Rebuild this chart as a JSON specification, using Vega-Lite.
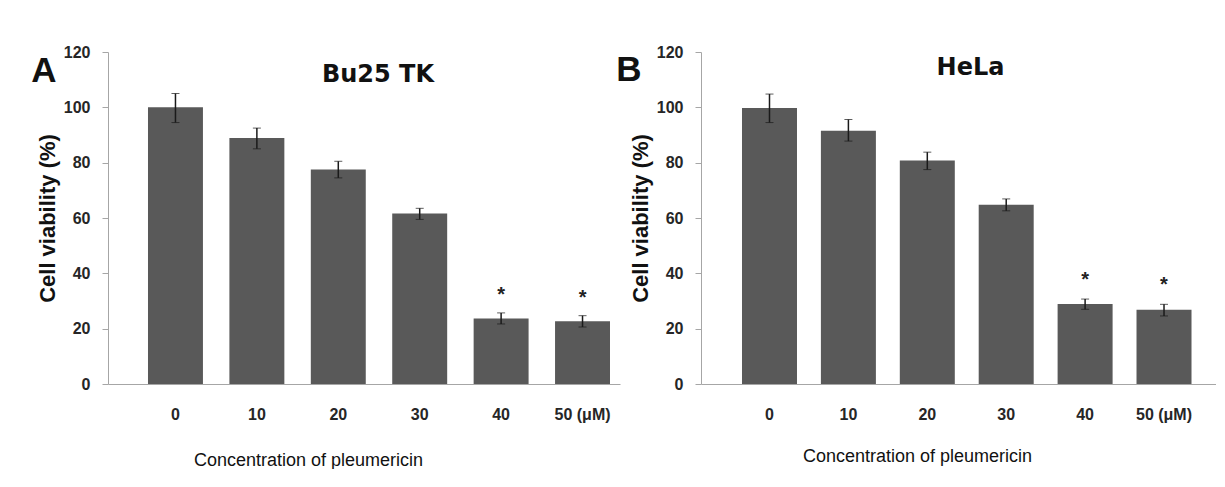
{
  "$schema": "https://vega.github.io/schema/vega-lite/v6.json",
  "background": "white",
  "padding": {"left": 31, "top": 44, "right": 0, "bottom": 0},
  "datasets": {
    "a": [
      {"conc": "0", "v": 100, "lo": 94.5, "hi": 105, "sig": ""},
      {"conc": "10", "v": 88.9, "lo": 85, "hi": 92.5, "sig": ""},
      {"conc": "20", "v": 77.5, "lo": 74.5, "hi": 80.5, "sig": ""},
      {"conc": "30", "v": 61.6, "lo": 59.5, "hi": 63.5, "sig": ""},
      {"conc": "40", "v": 23.7, "lo": 21.7, "hi": 25.7, "sig": "*"},
      {"conc": "50 (μM)", "v": 22.7, "lo": 20.6, "hi": 24.7, "sig": "*"}
    ],
    "b": [
      {"conc": "0", "v": 99.8, "lo": 94.5, "hi": 104.8, "sig": ""},
      {"conc": "10", "v": 91.5, "lo": 87.8, "hi": 95.6, "sig": ""},
      {"conc": "20", "v": 80.8, "lo": 77.5, "hi": 83.8, "sig": ""},
      {"conc": "30", "v": 64.8, "lo": 62.6, "hi": 66.9, "sig": ""},
      {"conc": "40", "v": 28.9, "lo": 27, "hi": 30.7, "sig": "*"},
      {"conc": "50 (μM)", "v": 26.8, "lo": 24.6, "hi": 28.8, "sig": "*"}
    ]
  },
  "config": {
    "view": {"stroke": null},
    "axis": {
      "grid": false,
      "domainColor": "#a6a6a6",
      "tickColor": "#a6a6a6",
      "labelFont": "Liberation Sans",
      "labelFontWeight": "bold",
      "labelFontSize": 16,
      "labelColor": "#262626",
      "titleColor": "#111111"
    },
    "title": {"font": "DejaVu Sans", "fontWeight": "bold", "fontSize": 24, "color": "#111111"}
  },
  "spacing": -4,
  "hconcat": [
    {
      "title": {"text": "A", "anchor": "start", "frame": "bounds", "font": "Liberation Sans", "fontSize": 35, "dx": -5, "dy": 45, "offset": 0},
      "hconcat": [
        {
          "data": {"name": "a"},
          "width": 512,
          "height": 332,
          "title": {"text": "Bu25 TK", "anchor": "middle", "dx": 14, "dy": 43, "offset": 0},
          "encoding": {
            "x": {
              "field": "conc", "type": "nominal", "sort": null,
              "scale": {"paddingInner": 0.325, "paddingOuter": 0.307, "align": 0.8},
              "axis": {
                "labelAngle": 0, "ticks": false, "labelPadding": 22,
                "title": "Concentration of pleumericin",
                "titleFont": "Liberation Sans", "titleFontWeight": "normal", "titleFontSize": 18,
                "titleX": 200, "titleY": 81, "titleBaseline": "alphabetic"
              }
            }
          },
          "layer": [
            {
              "mark": {"type": "bar", "color": "#595959"},
              "encoding": {
                "y": {
                  "field": "v", "type": "quantitative", "title": "Cell viability (%)",
                  "scale": {"domain": [0, 120], "nice": false},
                  "axis": {
                    "values": [0, 20, 40, 60, 80, 100, 120], "tickSize": 6, "labelPadding": 12,
                    "titlePadding": 4, "titleFont": "Liberation Sans", "titleFontWeight": "bold", "titleFontSize": 22
                  }
                }
              }
            },
            {
              "mark": {
                "type": "errorbar",
                "ticks": {"size": 8, "color": "#1a1a1a", "strokeWidth": 1.5},
                "rule": {"color": "#1a1a1a", "strokeWidth": 1.5}
              },
              "encoding": {
                "y": {"field": "lo", "type": "quantitative", "title": "Cell viability (%)"},
                "y2": {"field": "hi"}
              }
            },
            {
              "mark": {"type": "text", "font": "Liberation Sans", "fontWeight": "bold", "fontSize": 20, "baseline": "alphabetic", "dy": -12, "color": "#222222"},
              "encoding": {
                "y": {"field": "hi", "type": "quantitative", "title": "Cell viability (%)"},
                "text": {"field": "sig"}
              }
            }
          ]
        }
      ]
    },
    {
      "title": {"text": "B", "anchor": "start", "frame": "bounds", "font": "Liberation Sans", "fontSize": 35, "dx": -13, "dy": 44, "offset": 0},
      "hconcat": [
        {
          "data": {"name": "b"},
          "width": 515,
          "height": 332,
          "title": {"text": "HeLa", "anchor": "middle", "dx": 12, "dy": 36, "offset": 0},
          "encoding": {
            "x": {
              "field": "conc", "type": "nominal", "sort": null,
              "scale": {"paddingInner": 0.303, "paddingOuter": 0.415, "align": 0.626},
              "axis": {
                "labelAngle": 0, "ticks": false, "labelPadding": 22,
                "title": "Concentration of pleumericin",
                "titleFont": "Liberation Sans", "titleFontWeight": "normal", "titleFontSize": 18,
                "titleX": 216, "titleY": 77, "titleBaseline": "alphabetic"
              }
            }
          },
          "layer": [
            {
              "mark": {"type": "bar", "color": "#595959"},
              "encoding": {
                "y": {
                  "field": "v", "type": "quantitative", "title": "Cell viability (%)",
                  "scale": {"domain": [0, 120], "nice": false},
                  "axis": {
                    "values": [0, 20, 40, 60, 80, 100, 120], "tickSize": 6, "labelPadding": 12,
                    "titlePadding": 4, "titleFont": "Liberation Sans", "titleFontWeight": "bold", "titleFontSize": 22
                  }
                }
              }
            },
            {
              "mark": {
                "type": "errorbar",
                "ticks": {"size": 8, "color": "#1a1a1a", "strokeWidth": 1.5},
                "rule": {"color": "#1a1a1a", "strokeWidth": 1.5}
              },
              "encoding": {
                "y": {"field": "lo", "type": "quantitative", "title": "Cell viability (%)"},
                "y2": {"field": "hi"}
              }
            },
            {
              "mark": {"type": "text", "font": "Liberation Sans", "fontWeight": "bold", "fontSize": 20, "baseline": "alphabetic", "dy": -13, "color": "#222222"},
              "encoding": {
                "y": {"field": "hi", "type": "quantitative", "title": "Cell viability (%)"},
                "text": {"field": "sig"}
              }
            }
          ]
        }
      ]
    }
  ]
}
